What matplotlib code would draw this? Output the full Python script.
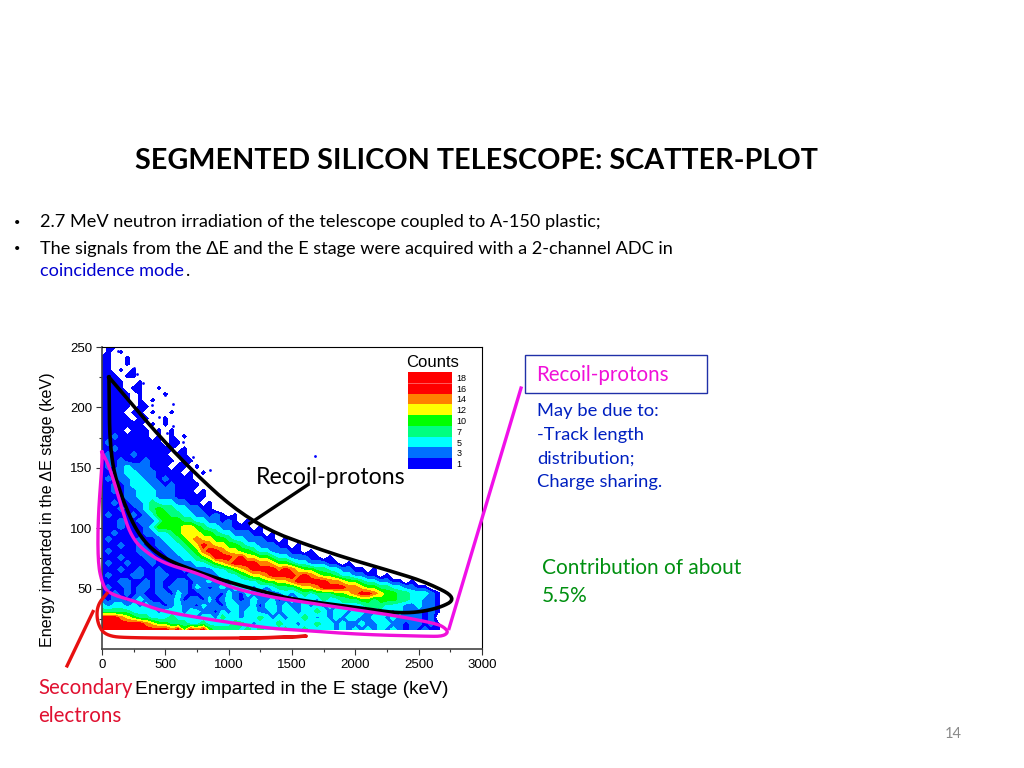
from matplotlib import pyplot as plt
from matplotlib.colors import ListedColormap
from matplotlib.patches import Rectangle
import numpy as np

# Values, one colour class per cell (0 = empty, 1..8 = legend
# colour from the bottom up). Columns are 50 keV wide, rows 5 keV, top row first
n_columns = 57
column_step = 50
bottom_row = 16
row_step = 5
scatter_rows = [
    "0110010",
    "01010000",
    "1100100",
    "110010",
    "1101010",
    "11101100",
    "11110010",
    "1111011001",
    "1111101000100",
    "11111010100",
    "111110110",
    "1111011010010",
    "11111011001",
    "1111111010100",
    "1111011101010",
    "11211111010101",
    "12111111110110",
    "112111111111010",
    "1211121111101100",
    "1212111211110110",
    "1212322211101101",
    "11223322211110101",
    "121223322121111",
    "1121233322121111",
    "11212233322211101",
    "111122333222111110",
    "112112234333221101",
    "1112112345443322110",
    "1211121235544332212101",
    "111211222355544332212101",
    "11121112355556654332211101",
    "1121111223345666554332221101",
    "12111121123345676655433222110" + "1",
    "1112112112233456876655433222110" + "1",
    "121111221122334578876655433222" + "1101",
    "111211122112233456888786655433" + "2221101",
    "121121112111222334567888877655" + "4332221101",
    "111211211211121222334567888878" + "76554433221101",
    "121112211221112212233345667888" + "8787655433221101",
    "111221121211221223122333345566" + "78888877655433221101",
    "121121221212221321232333232344" + "4566788887765544332211" + "0",
    "112121211221321122213213223223" + "2343444556788765544333" + "21",
    "212212321122312213123212322312" + "3233243344455455544332" + "21",
    "323323232212322132213322313323" + "2232323233334443332232" + "21",
    "444443333233323322132323322323" + "3233432332332233232221" + "21",
    "888765443334333233243323343232" + "3343232323322332322221" + "2",
    "888888876554443343333443233343" + "3233433232232233221221" + "21",
    "888888888887858785444434343334" + "3343333232323232321212" + "11",
]

# stray counts above the main band
stray_e = [126, 197, 276, 326, 394, 497, 563, 563, 513, 718, 1682, 250, 450, 640, 850]
stray_de = [247, 242, 228, 220, 202, 210, 203, 185, 179, 159, 160, 233, 192, 171, 148]

count_levels = [0.7, 1.5, 2.5, 3.5, 4.5, 5.5, 6.5, 7.5, 8.5, 9.5]
count_colors = ['#0000ff', '#0070ff', '#00ffff', '#00ff80', '#00ff00',
                '#ffff00', '#ff8000', '#ff0000', '#ff0000']
legend_labels = ['1', '3', '5', '7', '10', '12', '14', '16', '18']

# Hand drawn outlines on the slide, in data coordinates
black_e = [55, 592, 1168, 1776, 2297, 2566, 2810, 2645, 2376, 2037, 1508, 1326, 1011, 750, 482, 300, 166, 63, 55]
black_de = [225, 159, 104, 80, 64, 55, 42, 33, 29, 34, 41, 46, 55, 64, 75, 92, 122, 158, 225]
magenta_e = [0, 63, 166, 221, 300, 482, 750, 1011, 1326, 1776, 2297, 2640, 2700, 2735, 2690, 2566, 2037, 1508, 1326, 876, 482, 276, 47, 0, -32, -32, 0, 0]
magenta_de = [163, 150, 113, 96, 84, 71, 63, 51, 43, 36, 28, 21, 18, 14, 10.5, 10.5, 12, 16, 17, 24, 31, 39, 46, 55, 71, 108, 152, 163]
red_e = [39, -39, -39, 24, 221, 1326, 1666, 1508, 1100]
red_de = [46, 36, 22, 11, 9, 9, 11, 10, 9]
magenta_leader_e = [2740, 3308]
magenta_leader_de = [17, 216]
red_leader_e = [-71, -276]
red_leader_de = [31, -14]
black_leader_e = [1168, 1626]
black_leader_de = [104, 136]

body_font = ['Lato', 'DejaVu Sans']
axis_font = ['Liberation Sans', 'DejaVu Sans']


def smooth(xs, ys, rounds=3):
    # corner cutting, end points stay where they are
    pts = np.column_stack([xs, ys]).astype(float)
    for _ in range(rounds):
        q = 0.75 * pts[:-1] + 0.25 * pts[1:]
        r = 0.25 * pts[:-1] + 0.75 * pts[1:]
        mid = np.empty((2 * len(q), 2))
        mid[0::2] = q
        mid[1::2] = r
        pts = np.vstack([pts[0], mid, pts[-1]])
    return pts[:, 0], pts[:, 1]


def px_text(x, y, s, **kw):
    # slide text is placed by pixel position
    kw.setdefault('family', body_font)
    kw.setdefault('va', 'center')
    return fig.text(x / 1024, 1 - y / 768, s, **kw)


fig = plt.figure(figsize=(10.24, 7.68), dpi=100)

ax = fig.add_axes([102 / 1024, 1 - 649 / 768, 380 / 1024, 302 / 768])
counts = np.array([[int(c) for c in row.ljust(n_columns, '0')] for row in scatter_rows[::-1]])
energy_e = np.arange(n_columns) * column_step
energy_de = bottom_row + np.arange(len(scatter_rows)) * row_step
ax.contourf(energy_e, energy_de, counts, levels=count_levels, colors=count_colors)
ax.scatter(stray_e, stray_de, s=4, color='#0000ff', linewidths=0)

x, y = smooth(black_e, black_de)
ax.plot(x, y, color='black', lw=2.6, clip_on=False, zorder=5)
ax.plot(black_leader_e, black_leader_de, color='black', lw=2.4, clip_on=False, zorder=5)
x, y = smooth(magenta_e, magenta_de)
ax.plot(x, y, color='#f010d8', lw=2.4, clip_on=False, zorder=6)
ax.plot(magenta_leader_e, magenta_leader_de, color='#f010e8', lw=2.4, clip_on=False, zorder=6)
x, y = smooth(red_e, red_de)
ax.plot(x, y, color='#e81010', lw=2.4, clip_on=False, zorder=7)
ax.plot(red_leader_e, red_leader_de, color='#e81010', lw=2.4, clip_on=False, zorder=7)

ax.set_xlim(0, 3000)
ax.set_ylim(0, 250)
ax.set_xticks([0, 500, 1000, 1500, 2000, 2500, 3000])
ax.set_xticks(np.arange(250, 3000, 500), minor=True)
ax.set_yticks([50, 100, 150, 200, 250])
ax.set_yticks(np.arange(25, 250, 50), minor=True)
ax.tick_params(which='major', length=4, width=0.8, labelsize=9.5, pad=3, color='#333333')
ax.tick_params(which='minor', length=2.5, width=0.8, color='#333333')
for label in ax.get_xticklabels() + ax.get_yticklabels():
    label.set_family(axis_font)
ax.spines['left'].set_color('#444444')
ax.spines['bottom'].set_color('#444444')
ax.spines['left'].set_linewidth(1.2)
ax.spines['bottom'].set_linewidth(1.2)

# Counts legend
leg = fig.add_axes([408 / 1024, 1 - 469 / 768, 44 / 1024, 97 / 768])
leg.imshow(np.arange(len(count_colors))[::-1].reshape(-1, 1), aspect='auto',
           cmap=ListedColormap(count_colors))
leg.axhline(0.5, color='#ff8080', lw=0.5)
leg.yaxis.tick_right()
leg.set_yticks(range(len(legend_labels)))
leg.set_yticklabels(legend_labels[::-1], family=axis_font, fontsize=6.5)
leg.tick_params(length=0, pad=3)
leg.set_xticks([])
for side in leg.spines.values():
    side.set_visible(False)

px_text(433, 362, 'Counts', family=axis_font, fontsize=12, ha='center')

# Axis titles
px_text(292, 689, 'Energy imparted in the E stage (keV)', family=axis_font, fontsize=13.8, ha='center')
px_text(48, 510, 'Energy imparted in the \u0394E stage (keV)', family=axis_font, fontsize=11.6,
        rotation=90, ha='center')

# Slide text
px_text(135, 161, 'SEGMENTED SILICON TELESCOPE: SCATTER-PLOT', fontsize=20.7, weight='bold')
px_text(14, 222, '\u2022', fontsize=8)
px_text(14, 249, '\u2022', fontsize=8)
px_text(40, 222, '2.7 MeV neutron irradiation of the telescope coupled to A-150 plastic;', fontsize=13.1)
px_text(40, 249, 'The signals from the \u0394E and the E stage were acquired with a 2-channel ADC in', fontsize=13.1)
px_text(40, 271, 'coincidence mode', fontsize=13.1, color='#0000d0')
px_text(186, 271, '.', fontsize=13.1)
px_text(256, 478, 'Recoil-protons', fontsize=16.7)

fig.add_artist(Rectangle((525 / 1024, 1 - 393 / 768), 182 / 1024, 38 / 768, fill=False,
                         edgecolor='#2030a8', lw=1, transform=fig.transFigure))
px_text(536, 375, 'Recoil-protons', fontsize=14.8, color='#f010d8')
px_text(537, 411, 'May be due to:', fontsize=13.2, color='#0020c0')
px_text(537, 435, '-Track length', fontsize=13.2, color='#0020c0')
px_text(537, 459, 'distribution;', fontsize=13.2, color='#0020c0')
px_text(537, 482, 'Charge sharing.', fontsize=13.2, color='#0020c0')
px_text(542, 568, 'Contribution of about', fontsize=15, color='#009010')
px_text(542, 596, '5.5%', fontsize=15, color='#009010')
px_text(38, 688, 'Secondary', fontsize=14.8, color='#e01030')
px_text(38, 716, 'electrons', fontsize=14.8, color='#e01030')
px_text(945, 734, '14', fontsize=10.5, color='#8a8a8a')

fig.savefig('out.png', dpi=100)
